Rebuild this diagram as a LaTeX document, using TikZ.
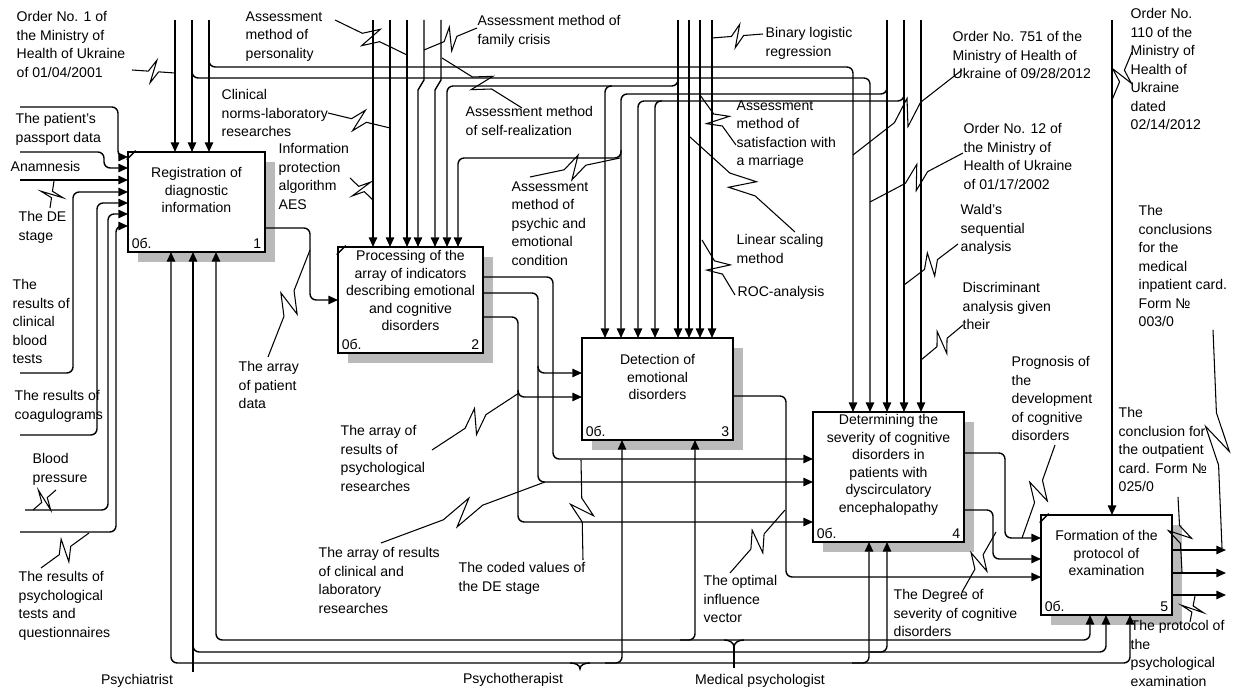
\documentclass[tikz,border=0pt]{standalone}
\usepackage{fontspec}
\setmainfont{Liberation Sans}
\usetikzlibrary{positioning,calc,arrows.meta,shadows,patterns}
\tikzset{%
  func/.style={%
    draw, line width=1.5pt, fill=white, inner sep=0pt,
    drop shadow={fill=black!27, opacity=1,
      shadow xshift=5.5pt, shadow yshift=-5.5pt}
  },
  functext/.style={font=\fontsize{8}{10}\selectfont, align=center, inner sep=0pt},
  fnum/.style={font=\fontsize{8}{10}\selectfont, inner sep=2.5pt},
  lbl/.style={font=\fontsize{8}{10.5}\selectfont, align=left, inner sep=0pt, anchor=north west},
  mech/.style={font=\fontsize{8}{10.5}\selectfont, inner sep=0pt},
  arr/.style={-{Triangle[length=5.5pt,width=4.8pt]}},
  rc/.style={rounded corners=3.5pt},
  squig/.style={line width=0.6pt, to path={%
    -- ($(\tikztostart)!0.38!(\tikztotarget)$)
    -- ($(\tikztostart)!0.56!(\tikztotarget)!6.5pt!90:(\tikztotarget)$)
    -- ($(\tikztostart)!0.44!(\tikztotarget)!6.5pt!-90:(\tikztotarget)$)
    -- ($(\tikztostart)!0.62!(\tikztotarget)$)
    -- (\tikztotarget)}},
}
\begin{document}
\begin{tikzpicture}[x=0.02cm, y=-0.02cm, line width=0.8pt]
\useasboundingbox (0,0) rectangle (1235,688);

% function boxes
\node (B1)[func, minimum width=2.74cm, minimum height=2cm] at (196.5,202) {};
\node (B2)[func, minimum width=2.9cm, minimum height=2.12cm] at (410.5,300) {};
\node (B3)[func, minimum width=3.02cm, minimum height=2.04cm] at (657.5,389) {};
\node (B4)[func, minimum width=3.02cm, minimum height=2.6cm] at (888.5,477) {};
\node (B5)[func, minimum width=2.62cm, minimum height=2cm] at (1106.5,565) {};

\node (T1)[functext, below=0.32cm of B1.north] {Registration of\\diagnostic\\information};
\node (T2)[functext, below=0.08cm of B2.north] {Processing of the\\array of indicators\\describing emotional\\and cognitive\\disorders};
\node (T3)[functext, below=0.34cm of B3.north] {Detection of\\emotional\\disorders};
\node (T4)[functext, below=0.06cm of B4.north] {Determining the\\severity of cognitive\\disorders in\\patients with\\dyscirculatory\\encephalopathy};
\node (T5)[functext, below=0.32cm of B5.north] {Formation of the\\protocol of\\examination};

\foreach \b/\n in {B1/1,B2/2,B3/3,B4/4,B5/5}{
  \node[fnum, anchor=south west] at (\b.south west) {0б.};
  \node[fnum, anchor=south east] at (\b.south east) {\n};
}
\foreach \b in {B1,B2,B5}
  \draw (\b.north west) ++(0,9) -- ++(9,-9);

% controls
\draw[arr] (175,20) -- (175,152);
\draw[arr] (192,20) -- (192,152);
\draw[arr] (209,20) -- (209,152);
\draw[arr,rc] (209,58) |- (853,67) -- (853,412);
\draw[arr,rc] (192,70) |- (870,78) -- (870,412);
\draw[arr] (373,20) -- (373,247);
\draw[arr] (390,20) -- (390,247);
\draw[arr] (407,20) -- (407,247);
\draw[arr] (424,20) -- (424,80) -- (418,90) -- (418,247);
\draw[arr] (441,20) -- (441,80) -- (435,90) -- (435,247);
\draw[arr,rc] (678,80) |- (447,86) -- (447,247);
\draw[arr,rc] (612,86) -| (605,338);
\draw[arr] (678,20) -- (678,338);
\draw[arr] (689,20) -- (689,338);
\draw[arr] (700,20) -- (700,338);
\draw[arr] (712,20) -- (712,338);
\draw[arr,rc] (887,88) |- (621,94) -- (621,338);
\draw[arr,rc] (904,95) |- (638,101) -- (638,338);
\draw[arr,rc] (662,101) -| (655,338);
\draw[arr,rc] (621,150) |- (458,158) -- (458,247);
\draw[arr] (887,20) -- (887,412);
\draw[arr] (904,20) -- (904,412);
\draw[arr] (921,20) -- (921,412);
\draw[arr] (1112,20) -- (1112,515);

% inputs
\draw[arr,rc] (20,107) -| (118,157) -- (128,157);
\draw[arr,rc] (20,152) -| (104,168) -- (128,168);
\draw[arr] (20,180) -- (128,180);
\draw[arr,rc] (20,373) -| (73,192) -- (128,192);
\draw[arr,rc] (20,435) -| (97,203) -- (128,203);
\draw[arr,rc] (25,510) -| (108,214) -- (128,214);
\draw[arr,rc] (20,532) -| (116,226) -- (128,226);

% outputs between boxes
\draw[arr,rc] (265,228) -| (310,300) -- (338,300);
\draw[arr,rc] (483,277) -| (553,459) -- (813,459);
\draw[arr,rc] (483,293) -| (538,482) -- (813,482);
\draw[arr,rc] (538,366) |- (582,373);
\draw[arr,rc] (483,317) -| (518,522) -- (813,522);
\draw[arr,rc] (518,390) |- (582,397);
\draw[arr,rc] (733,396) -| (786,577) -- (1041,577);
\draw[arr,rc] (964,453) -| (1005,538) -- (1041,538);
\draw[arr,rc] (964,510) -| (993,559) -- (1041,559);
\draw[arr] (1172,550) -- (1226,550);
\draw[arr] (1172,573) -- (1226,573);
\draw[arr] (1172,595) -- (1226,595);

% mechanisms
\draw[arr] (193,672) -- (193,252);
\draw[arr,rc] (193,645) |- (1106,652) -- (1106,615);
\draw[arr,rc] (870,652) -| (887,542);
\draw[arr,rc] (580,663) -| (171,252);
\draw[arr,rc] (580,663) -| (1130,615);
\draw[arr,rc] (605,663) -| (622,440);
\draw[arr,rc] (852,663) -| (869,542);
\draw[arr,rc] (734,640) -| (216,252);
\draw[arr,rc] (734,640) -| (1090,615);
\draw[arr,rc] (680,640) -| (695,440);
\draw (724,640) to[out=0,in=90] (734,647) to[out=90,in=180] (744,640);
\draw (734,647) -- (734,668);
\draw (570,663) to[out=0,in=90] (580,669) to[out=90,in=180] (590,663);

% labels
\node (lOrd1)[lbl] at (16,11) {Order No. 1 of\\the Ministry of\\Health of Ukraine\\of 01/04/2001};
\node (lPers)[lbl] at (245,11) {Assessment\\method of\\personality};
\node (lFam)[lbl] at (477,15) {Assessment method of\\family crisis};
\node (lBin)[lbl] at (765,27) {Binary logistic\\regression};
\node (lOrd751)[lbl] at (952,31) {Order No. 751 of the\\Ministry of Health of\\Ukraine of 09/28/2012};
\node (lOrd110)[lbl] at (1130,8) {Order No.\\110 of the\\Ministry of\\Health of\\Ukraine\\dated\\02/14/2012};
\node (lClin)[lbl] at (221,89) {Clinical\\norms-laboratory\\researches};
\node (lSelf)[lbl] at (465,106) {Assessment method\\of self-realization};
\node (lSat)[lbl] at (736,100) {Assessment\\method of\\satisfaction with\\a marriage};
\node (lOrd12)[lbl] at (963,123) {Order No. 12 of\\the Ministry of\\Health of Ukraine\\of 01/17/2002};
\node (lAes)[lbl] at (278,143) {Information\\protection\\algorithm\\AES};
\node (lPsy)[lbl] at (511,181) {Assessment\\method of\\psychic and\\emotional\\condition};
\node (lWald)[lbl] at (960,204) {Wald's\\sequential\\analysis};
\node (lInp)[lbl] at (1138,205) {The\\conclusions\\for the\\medical\\inpatient card.\\Form №\\003/0};
\node (lLin)[lbl] at (736,234) {Linear scaling\\method};
\node (lRoc)[lbl] at (737,286) {ROC-analysis};
\node (lDisc)[lbl] at (962,282) {Discriminant\\analysis given\\their};
\node (lProg)[lbl] at (1011,356) {Prognosis of\\the\\development\\of cognitive\\disorders};
\node (lOut)[lbl] at (1118,407) {The\\conclusion for\\the outpatient\\card. Form №\\025/0};
\node (lPass)[lbl] at (15,113) {The patient's\\passport data};
\node (lAnam)[lbl] at (10,161) {Anamnesis};
\node (lDE)[lbl] at (18,211) {The DE\\stage};
\node (lBlood)[lbl] at (12,279) {The\\results of\\clinical\\blood\\tests};
\node (lCoag)[lbl] at (14,390) {The results of\\coagulograms};
\node (lBP)[lbl] at (32,453) {Blood\\pressure};
\node (lTests)[lbl] at (18,571) {The results of\\psychological\\tests and\\questionnaires};
\node (lPat)[lbl] at (238,361) {The array\\of patient\\data};
\node (lPsyRes)[lbl] at (340,425) {The array of\\results of\\psychological\\researches};
\node (lClinRes)[lbl] at (318,547) {The array of results\\of clinical and\\laboratory\\researches};
\node (lCoded)[lbl] at (458,562) {The coded values of\\the DE stage};
\node (lOpt)[lbl] at (703,575) {The optimal\\influence\\vector};
\node (lDeg)[lbl] at (893,589) {The Degree of\\severity of cognitive\\disorders};
\node (lProt)[lbl] at (1130,620) {The protocol of\\the\\psychological\\examination};
\node (mPsychiatrist)[mech] at (137,681) {Psychiatrist};
\node (mPsychother)[mech] at (513,680) {Psychotherapist};
\node (mMedPsy)[mech] at (760,681) {Medical psychologist};

% leaders
\draw[squig] (132,70) to (175,73);
\draw[squig] (335,20) to (407,55);
\draw[squig] (477,28) to (424,50);
\draw[squig] (522,108) to (442,58);
\draw[squig] (328,113) to (390,128);
\draw[squig] (350,178) to (373,200);
\draw[squig] (530,177) to (620,158);
\draw[squig] (763,34) to (712,38);
\draw[squig] (736,145) to (700,95);
\draw[squig] (795,232) to (690,137);
\draw[squig] (735,295) to (702,240);
\draw[squig] (962,70) to (853,155);
\draw[squig] (963,153) to (870,202);
\draw[squig] (958,244) to (904,285);
\draw[squig] (963,325) to (921,360);
\draw[squig] (1132,52) to (1112,100);
\draw[squig] (1055,445) to (1022,538);
\draw[squig] (1213,330) to (1222,548);
\draw[squig] (1178,497) to (1182,572);
\draw[squig] (1190,622) to (1195,596);
\draw[squig] (268,357) to (310,250);
\draw[squig] (432,450) to (519,393);
\draw[squig] (381,543) to (545,482);
\draw[squig] (583,560) to (581,460);
\draw[squig] (730,573) to (785,510);
\draw[squig] (962,592) to (996,532);
\draw[squig] (50,208) to (54,181);
\draw[squig] (56,490) to (33,510);
\draw[squig] (41,568) to (89,533);
\end{tikzpicture}
\end{document}
